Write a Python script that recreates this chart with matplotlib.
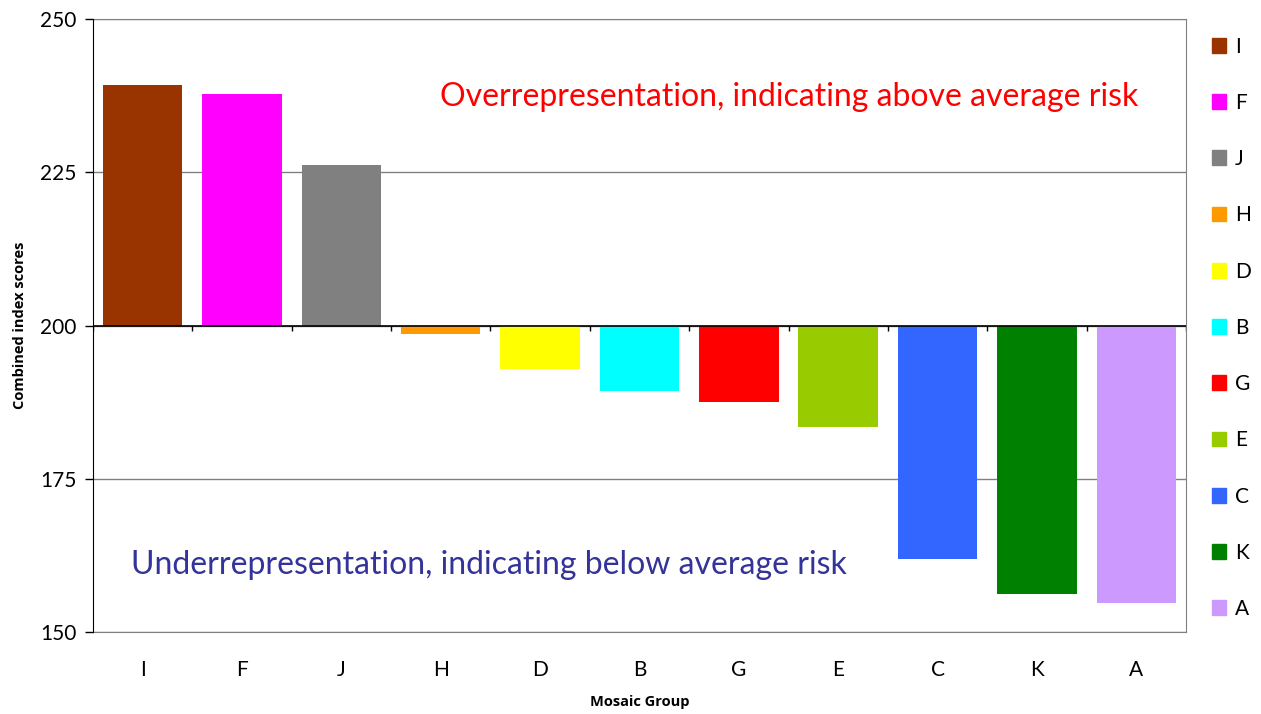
import matplotlib.pyplot as plt
import matplotlib.patches as mpatches
import numpy as np

plt.rcParams['font.family'] = ['Lato', 'DejaVu Sans']

groups = ["I", "F", "J", "H", "D", "B", "G", "E", "C", "K", "A"]
scores = [239.2, 237.8, 226.2, 198.6, 192.9, 189.3, 187.5, 183.4, 161.9, 156.2, 154.7]
colors = ["#993300", "#FF00FF", "#808080", "#FF9900", "#FFFF00", "#00FFFF",
          "#FF0000", "#99CC00", "#3366FF", "#008000", "#CC99FF"]
baseline = 200

fig = plt.figure(figsize=(12.61, 7.14), dpi=100)
ax = fig.add_axes([0.0737, 0.1148, 0.8668, 0.8586])

x = np.arange(len(groups))
heights = np.array(scores) - baseline
ax.bar(x, heights, bottom=baseline, width=0.8, color=colors, zorder=3)

ax.set_xlim(-0.5, len(groups) - 0.5)
ax.set_ylim(150, 250)
ax.set_yticks([150, 175, 200, 225, 250])
ax.tick_params(axis='y', labelsize=15, length=6, width=1, direction='out', pad=6)
ax.set_xticks(x)
ax.set_xticklabels(groups)
ax.tick_params(axis='x', labelsize=15, length=0, pad=20)

ax.grid(axis='y', color='#808080', linewidth=1, zorder=0)
for s in ['top', 'right', 'bottom']:
    ax.spines[s].set_color('#808080')
ax.spines['left'].set_color('black')
ax.spines['left'].set_zorder(5)

# category axis crosses at 200
ax.axhline(baseline, color='black', linewidth=1.2, zorder=4)
ax.vlines(np.arange(len(groups) + 1) - 0.5, baseline - 0.9, baseline,
          color='black', linewidth=1, zorder=4)

ax.set_ylabel("Combined index scores", fontsize=10.5, fontweight='bold',
              family='Open Sans', labelpad=9)
ax.set_xlabel("Mosaic Group", fontsize=10.5, fontweight='bold',
              family='Open Sans', labelpad=11)

ax.text(0.637, 0.872, "Overrepresentation, indicating above average risk",
        transform=ax.transAxes, ha='center', va='center', fontsize=23, color='#FF0000')
ax.text(0.362, 0.11, "Underrepresentation, indicating below average risk",
        transform=ax.transAxes, ha='center', va='center', fontsize=23, color='#333399')

handles = [mpatches.Patch(color=c, label=g) for g, c in zip(groups, colors)]
ax.legend(handles=handles, loc='upper left', bbox_to_anchor=(1.016, 0.985),
          frameon=False, fontsize=15, labelspacing=1.74, handlelength=0.7,
          handleheight=0.7, handletextpad=0.4, borderaxespad=0)

plt.savefig("out.png", dpi=100)
